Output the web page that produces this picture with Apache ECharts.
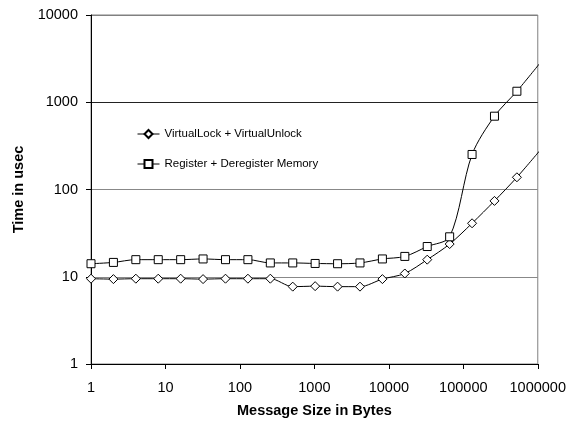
<!DOCTYPE html>
<html>
<head>
<meta charset="utf-8">
<script src="https://cdn.jsdelivr.net/npm/echarts@6/dist/echarts.min.js"></script>
<style>
  html, body { margin: 0; padding: 0; background: #fff; }
  #chart { width: 569px; height: 423px; }
</style>
</head>
<body>
<div id="chart"></div>
<script>
// Message sizes (bytes), powers of two
const messageSizes = [1, 2, 4, 8, 16, 32, 64, 128, 256, 512, 1024, 2048, 4096, 8192, 16384, 32768, 65536, 131072, 262144, 524288, 1048576];
// Time in usec
const lockUnlock = [9.5, 9.4, 9.5, 9.5, 9.5, 9.4, 9.5, 9.5, 9.5, 7.7, 7.8, 7.7, 7.7, 9.4, 10.9, 15.7, 23.7, 41, 74, 138, 275];
const registerDeregister = [14.1, 14.6, 15.7, 15.7, 15.7, 16.0, 15.7, 15.7, 14.4, 14.4, 14.2, 14.1, 14.4, 16.0, 17.1, 22.2, 28.7, 252, 692, 1337, 2750];
const seriesNames = ['VirtualLock + VirtualUnlock', 'Register + Deregister Memory'];
const xTickLabels = ['1', '10', '100', '1000', '10000', '100000', '1000000'];
const yTickLabels = ['1', '10', '100', '1000', '10000'];

const FONT = '"Liberation Sans", Arial, Helvetica, sans-serif';

function pairs(ys) { return messageSizes.map((x, i) => [x, ys[i]]); }

const chart = echarts.init(document.getElementById('chart'), null, { renderer: 'canvas' });
chart.setOption({
  backgroundColor: '#fff',
  animation: false,
  grid: {
    left: 91, right: 31, top: 15, bottom: 59,
    show: true, borderColor: '#808080', borderWidth: 1, backgroundColor: 'transparent'
  },
  legend: {
    orient: 'vertical',
    left: 132, top: 123,
    itemWidth: 22, itemHeight: 10, itemGap: 18,
    lineStyle: { width: 1, color: '#000' },
    textStyle: { fontFamily: FONT, fontSize: 11.5, color: '#000' },
    data: seriesNames
  },
  xAxis: {
    type: 'log', logBase: 10, min: 1, max: 1000000,
    name: 'Message Size in Bytes', nameLocation: 'middle', nameGap: 39,
    nameTextStyle: { fontFamily: FONT, fontSize: 14.5, fontWeight: 'bold', color: '#000' },
    axisLine: { show: true, onZero: false, lineStyle: { color: '#000', width: 1 } },
    axisTick: { show: true, inside: false, length: 5, lineStyle: { color: '#000' } },
    minorTick: { show: false },
    axisLabel: {
      margin: 16, fontFamily: FONT, fontSize: 14.5, color: '#000',
      formatter: (v, i) => xTickLabels[i] !== undefined ? xTickLabels[i] : String(Math.round(v))
    },
    splitLine: { show: false }
  },
  yAxis: {
    type: 'log', logBase: 10, min: 1, max: 10000,
    name: 'Time in usec', nameLocation: 'middle', nameGap: 65,
    nameTextStyle: { fontFamily: FONT, fontSize: 14.5, fontWeight: 'bold', color: '#000' },
    axisLine: { show: true, onZero: false, lineStyle: { color: '#000', width: 1 } },
    axisTick: { show: true, inside: false, length: 5, lineStyle: { color: '#000' } },
    axisLabel: {
      margin: 13, fontFamily: FONT, fontSize: 14.5, color: '#000',
      formatter: (v, i) => yTickLabels[i] !== undefined ? yTickLabels[i] : String(Math.round(v))
    },
    splitLine: { show: true, lineStyle: { color: ['#000', '#888', '#888', '#222', '#808080'], width: 1 } }
  },
  series: [
    {
      name: seriesNames[0], type: 'line', data: pairs(lockUnlock),
      smooth: 0.3, clip: true,
      symbol: 'diamond', symbolSize: [9, 9],
      itemStyle: { color: '#fff', borderColor: '#000', borderWidth: 1 },
      lineStyle: { color: '#000', width: 1 },
      z: 3
    },
    {
      name: seriesNames[1], type: 'line', data: pairs(registerDeregister),
      smooth: 0.3, clip: true,
      symbol: 'rect', symbolSize: 8,
      itemStyle: { color: '#fff', borderColor: '#000', borderWidth: 1 },
      lineStyle: { color: '#000', width: 1 },
      z: 3
    }
  ]
});
</script>
</body>
</html>
